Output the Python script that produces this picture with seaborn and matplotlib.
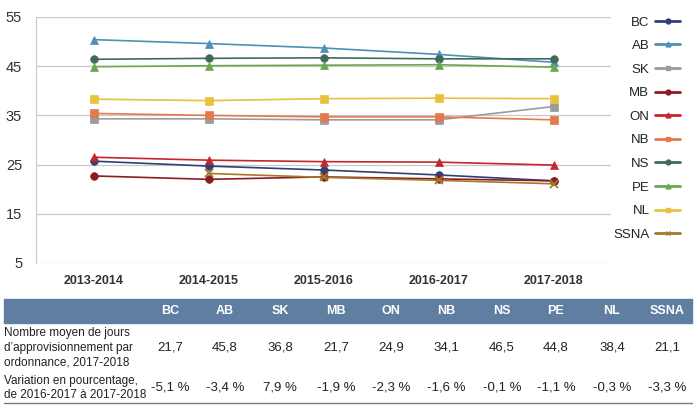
import numpy as np
import pandas as pd
import seaborn as sns
import matplotlib.pyplot as plt
from matplotlib.lines import Line2D
from matplotlib import font_manager

# data
years = ['2013-2014', '2014-2015', '2015-2016', '2016-2017', '2017-2018']
provinces = ['BC', 'AB', 'SK', 'MB', 'ON', 'NB', 'NS', 'PE', 'NL', 'SSNA']

bc = [25.7, 24.7, 23.9, 22.9, 21.7]
ab = [50.4, 49.6, 48.7, 47.4, 45.8]
sk = [34.3, 34.3, 34.1, 34.1, 36.8]
mb = [22.7, 22.0, 22.5, 22.1, 21.7]
on = [26.5, 25.9, 25.6, 25.5, 24.9]
nb = [35.4, 35.0, 34.7, 34.7, 34.1]
ns = [46.4, 46.6, 46.7, 46.5, 46.5]
pe = [44.9, 45.1, 45.2, 45.3, 44.8]
nl = [38.3, 38.0, 38.4, 38.5, 38.4]
ssna = [np.nan, 23.2, 22.4, 21.8, 21.1]

avg_days = ['21,7', '45,8', '36,8', '21,7', '24,9', '34,1', '46,5', '44,8', '38,4', '21,1']
pct_change = ['-5,1 %', '-3,4 %', '7,9 %', '-1,9 %', '-2,3 %', '-1,6 %', '-0,1 %', '-1,1 %', '-0,3 %', '-3,3 %']
row_labels = ["Nombre moyen de jours\nd\u2019approvisionnement par\nordonnance, 2017-2018",
              "Variation en pourcentage,\nde 2016-2017 \u00e0 2017-2018"]

colors = ['#2f3f78', '#4f8fb8', '#9b9b9b', '#8c1c24', '#c4262e', '#e27a4e',
          '#3f6a58', '#6aa84f', '#e8c23c', '#a5782a']
markers = ['o', '^', 's', 'o', '^', 's', 'o', '^', 's', 'x']

series = [bc, ab, sk, mb, on, nb, ns, pe, nl, ssna]
df = pd.DataFrame({
    'x': list(range(len(years))) * len(provinces),
    'prov': [p for p in provinces for _ in years],
    'val': [v for s in series for v in s],
}).dropna()

sns.set_style('white')
installed = {f.name for f in font_manager.fontManager.ttflist}
narrow = 'Liberation Sans Narrow' if 'Liberation Sans Narrow' in installed else 'Liberation Sans'
plt.rcParams['font.family'] = [narrow, 'DejaVu Sans']

fig = plt.figure(figsize=(6.94, 4.08), dpi=100)
ax = fig.add_axes([36 / 694, 1 - 263 / 408, (611 - 36) / 694, (263 - 17) / 408])

for p, c, m in zip(provinces, colors, markers):
    sub = df[df['prov'] == p]
    sns.lineplot(data=sub, x='x', y='val', color=c, marker=m, markersize=5.5,
                 markeredgecolor=c, markeredgewidth=1.3 if m == 'x' else 0.5,
                 linewidth=1.2, ax=ax, legend=False)

ax.set_ylim(5, 55)
ax.set_yticks([5, 15, 25, 35, 45, 55])
ax.set_xlim(-0.5, 4.5)
ax.set_xticks(range(len(years)))
ax.set_xticklabels(years, fontsize=9, fontweight='bold', color='#333333')
ax.tick_params(axis='y', labelsize=10.5, colors='#333333', length=0, pad=10)
ax.tick_params(axis='x', length=0, pad=9)
ax.set_xlabel('')
ax.set_ylabel('')
ax.grid(axis='y', color='#c8c8c8', linewidth=0.9)
for s in ['top', 'right', 'bottom']:
    ax.spines[s].set_visible(False)
ax.spines['left'].set_color('#c8c8c8')

handles = [Line2D([], [], color=c, marker=m, markersize=3.5, linewidth=2)
           for c, m in zip(colors, markers)]
fig.legend(handles, provinces, loc='upper right', bbox_to_anchor=(685 / 694, 1 - 11 / 408),
           frameon=False, markerfirst=False, fontsize=9.5, handlelength=1.85,
           labelspacing=0.86, handletextpad=0.45, labelcolor='#222222', borderaxespad=0)

# table below the chart
header_col = '#5f7ea2'
fig.patches.append(plt.Rectangle((4 / 694, 1 - 323 / 408), 688 / 694, 24 / 408,
                                 transform=fig.transFigure, color=header_col, zorder=0))
fig.add_artist(Line2D([4 / 694, 692 / 694], [1 - 403 / 408] * 2, color='#7a7a7a',
                      linewidth=1, transform=fig.transFigure))
col_x = [170, 225, 280, 336, 391, 446, 502, 556, 612, 667]
for p, xx, a, b in zip(provinces, col_x, avg_days, pct_change):
    fig.text(xx / 694, 1 - 311 / 408, p, ha='center', va='center', color='white',
             fontsize=9, fontweight='bold')
    fig.text(xx / 694, 1 - 347 / 408, a, ha='center', va='center', fontsize=9.5, color='#222222')
    fig.text(xx / 694, 1 - 388 / 408, b, ha='center', va='center', fontsize=9.5, color='#222222')
fig.text(4 / 694, 1 - 348 / 408, row_labels[0], ha='left', va='center', fontsize=8.5,
         color='#222222', linespacing=1.3)
fig.text(4 / 694, 1 - 388 / 408, row_labels[1], ha='left', va='center', fontsize=8.5,
         color='#222222', linespacing=1.3)

fig.savefig('out.png', dpi=100)
